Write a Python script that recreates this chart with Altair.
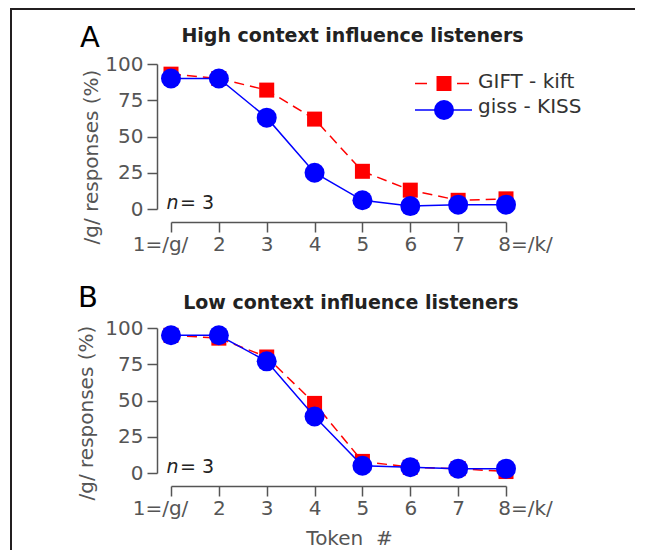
import json
import altair as alt
import pandas as pd

# ---------------- data ----------------
tokens = [1, 2, 3, 4, 5, 6, 7, 8]
token_labels = ["1=/g/", "2", "3", "4", "5", "6", "7", "8=/k/"]
series_names = ["GIFT - kift", "giss - KISS"]
high_gift = [93, 90, 82, 62, 26, 13, 6, 7]
high_giss = [90, 90, 63, 25, 6, 2, 3, 3]
low_gift = [95, 93, 80, 48, 8, 4, 3, 1]
low_giss = [95, 95, 77, 39, 5, 4, 3, 3]
panel_titles = ["High context influence listeners", "Low context influence listeners"]
panel_letters = ["A", "B"]
n_parts = ["n", "= 3"]
y_title = "/g/ responses (%)"
x_title = "Token\u00a0\u00a0#"
y_ticks = [0, 25, 50, 75, 100]

# ---------------- style ----------------
RED = "#ff0000"
BLUE = "#0000ff"
GRAY = "#555555"
DARK = "#222222"
FRAME = "#231f20"
FONT = "DejaVu Sans"
W, H = 335, 145

label_expr = json.dumps(token_labels) + "[datum.value - 1]"


def one_row(text=""):
    return pd.DataFrame({"t": [text]})


def text_layer(text, x, y, size, color=DARK, align="left", **kw):
    return alt.Chart(one_row(text)).mark_text(
        font=FONT, fontSize=size, align=align, baseline="alphabetic", color=color, **kw
    ).encode(text="t:N", x=alt.value(x), y=alt.value(y))


def hrule(x, x2, y, color, width):
    return alt.Chart(one_row()).mark_rule(color=color, strokeWidth=width).encode(
        x=alt.value(x), x2=alt.value(x2), y=alt.value(y)
    )


def bar(x, x2, y, y2, color):
    return alt.Chart(one_row()).mark_rect(color=color, opacity=1).encode(
        x=alt.value(x), x2=alt.value(x2), y=alt.value(y), y2=alt.value(y2)
    )


def panel(gift, giss, title, letter, bottom, geo):
    df = pd.DataFrame({
        "token": tokens * 2,
        "pct": gift + giss,
        "series": [series_names[0]] * len(tokens) + [series_names[1]] * len(tokens),
    })
    xaxis_kw = dict(
        values=tokens, labelExpr=label_expr, offset=13, tickSize=10, tickWidth=1.5,
        domainWidth=1.5, domainColor=GRAY, tickColor=GRAY, labelColor=GRAY,
        labelFont=FONT, labelFontSize=20, labelPadding=2, labelAngle=0, grid=False,
        labelOverlap=False, labelFlush=False,
        labelOffset=alt.ExprRef("datum.value == 1 ? -11 : (datum.value == 8 ? 19 : 0)"),
    )
    if bottom:
        xaxis_kw.update(title=x_title, titleFont=FONT, titleFontSize=20,
                        titleFontWeight="normal", titleColor=GRAY,
                        titleX=178, titleY=58, titleBaseline="alphabetic")
    else:
        xaxis_kw.update(title="")
    x = alt.X("token:Q", scale=alt.Scale(domain=[1, 8], nice=False, zero=False),
              axis=alt.Axis(**xaxis_kw))
    y = alt.Y("pct:Q", scale=alt.Scale(domain=[0, 100], nice=False),
              axis=alt.Axis(values=y_ticks, offset=14, tickSize=10, tickWidth=1.5,
                            domainWidth=1.5, domainColor=GRAY, tickColor=GRAY,
                            labelColor=GRAY, labelFont=FONT, labelFontSize=20,
                            labelPadding=4, grid=False, labelOverlap=False,
                            title=y_title,
                            titleFont=FONT, titleFontSize=20, titleFontWeight="normal",
                            titleColor=GRAY, titleX=geo["ytx"], titleY=geo["yty"],
                            titleBaseline="middle"))
    base = alt.Chart(df)
    red = base.transform_filter(alt.datum.series == series_names[0])
    blue = base.transform_filter(alt.datum.series == series_names[1])
    layers = [
        red.mark_line(color=RED, strokeWidth=1.5, strokeDash=[10, 6]).encode(x=x, y=y),
        red.mark_point(shape="square", filled=True, size=225, color=RED, opacity=1).encode(x=x, y=y),
        blue.mark_line(color=BLUE, strokeWidth=1.5).encode(x=x, y=y),
        blue.mark_point(shape="circle", filled=True, size=400, color=BLUE, opacity=1).encode(x=x, y=y),
        text_layer(letter, geo["lx"], geo["ly"], 29, color="#000000"),
        text_layer(title, geo["tx"], geo["ty"], 19, color=DARK, align="center", fontWeight="bold"),
        text_layer(n_parts[0], -4.5, 145, 19, fontStyle="italic"),
        text_layer(n_parts[1], 9, 145, 19),
    ]
    if geo.get("legend"):
        layers += [
            hrule(244, 256, 19.5, RED, 1.5),
            hrule(286, 298, 19.5, RED, 1.5),
            alt.Chart(one_row()).mark_point(shape="square", filled=True, size=225, color=RED, opacity=1)
            .encode(x=alt.value(273), y=alt.value(19.5)),
            hrule(244, 301, 46, BLUE, 1.5),
            alt.Chart(one_row()).mark_point(shape="circle", filled=True, size=400, color=BLUE, opacity=1)
            .encode(x=alt.value(273), y=alt.value(46)),
            text_layer(series_names[0], 307, 23.7, 20, color="#333333"),
            text_layer(series_names[1], 307, 49.3, 20, color="#333333"),
            # figure frame (top and left edges)
            bar(-161, 464, -56, -54, FRAME),
            bar(-161, -159, -56, 486, FRAME),
        ]
    return alt.layer(*layers).properties(width=W, height=H)


geoA = dict(ytx=-66, yty=92.5, lx=-91, ly=-17.3, tx=181.5, ty=-22.5, legend=True)
geoB = dict(ytx=-71, yty=84.6, lx=-93, ly=-21, tx=179.8, ty=-19.4)

chart = alt.vconcat(
    panel(high_gift, high_giss, panel_titles[0], panel_letters[0], False, geoA),
    panel(low_gift, low_giss, panel_titles[1], panel_letters[1], True, geoB),
    spacing=119,
    bounds="flush",
).properties(
    padding={"left": 2, "top": 0, "right": 0, "bottom": 0}
).configure_view(strokeWidth=0)

chart.save("out.html", embed_options={"renderer": "svg", "actions": False})
